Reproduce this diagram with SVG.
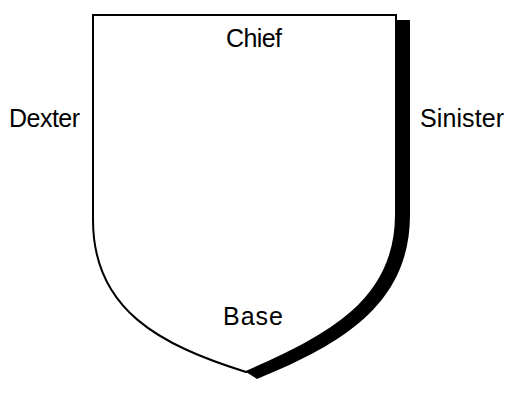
<svg xmlns="http://www.w3.org/2000/svg" width="517" height="405" viewBox="0 0 517 405">
<style>
.lbl{font-family:"Liberation Sans",Arial,sans-serif;font-size:25px;fill:#000}
.outline{fill:#fff;stroke:#000;stroke-width:2}
</style>
<rect width="517" height="405" fill="#fff"/>
<g id="shield">
<path id="shadow" d="M396,20 H410 V215 C410,305 340,345 257,379 L246,372 C330,335 396,300 396,215 Z" fill="#000"/>
<path class="outline" d="M93,15 H396 V215 C396,300 330,335 246,372 C160,345 93,310 93,220 Z"/>
</g>
<g id="labels">
<text class="lbl" x="226" y="47" textLength="56">Chief</text>
<text class="lbl" x="9" y="127" textLength="71">Dexter</text>
<text class="lbl" x="420" y="127" textLength="84">Sinister</text>
<text class="lbl" x="223" y="325" textLength="60">Base</text>
</g>
</svg>
